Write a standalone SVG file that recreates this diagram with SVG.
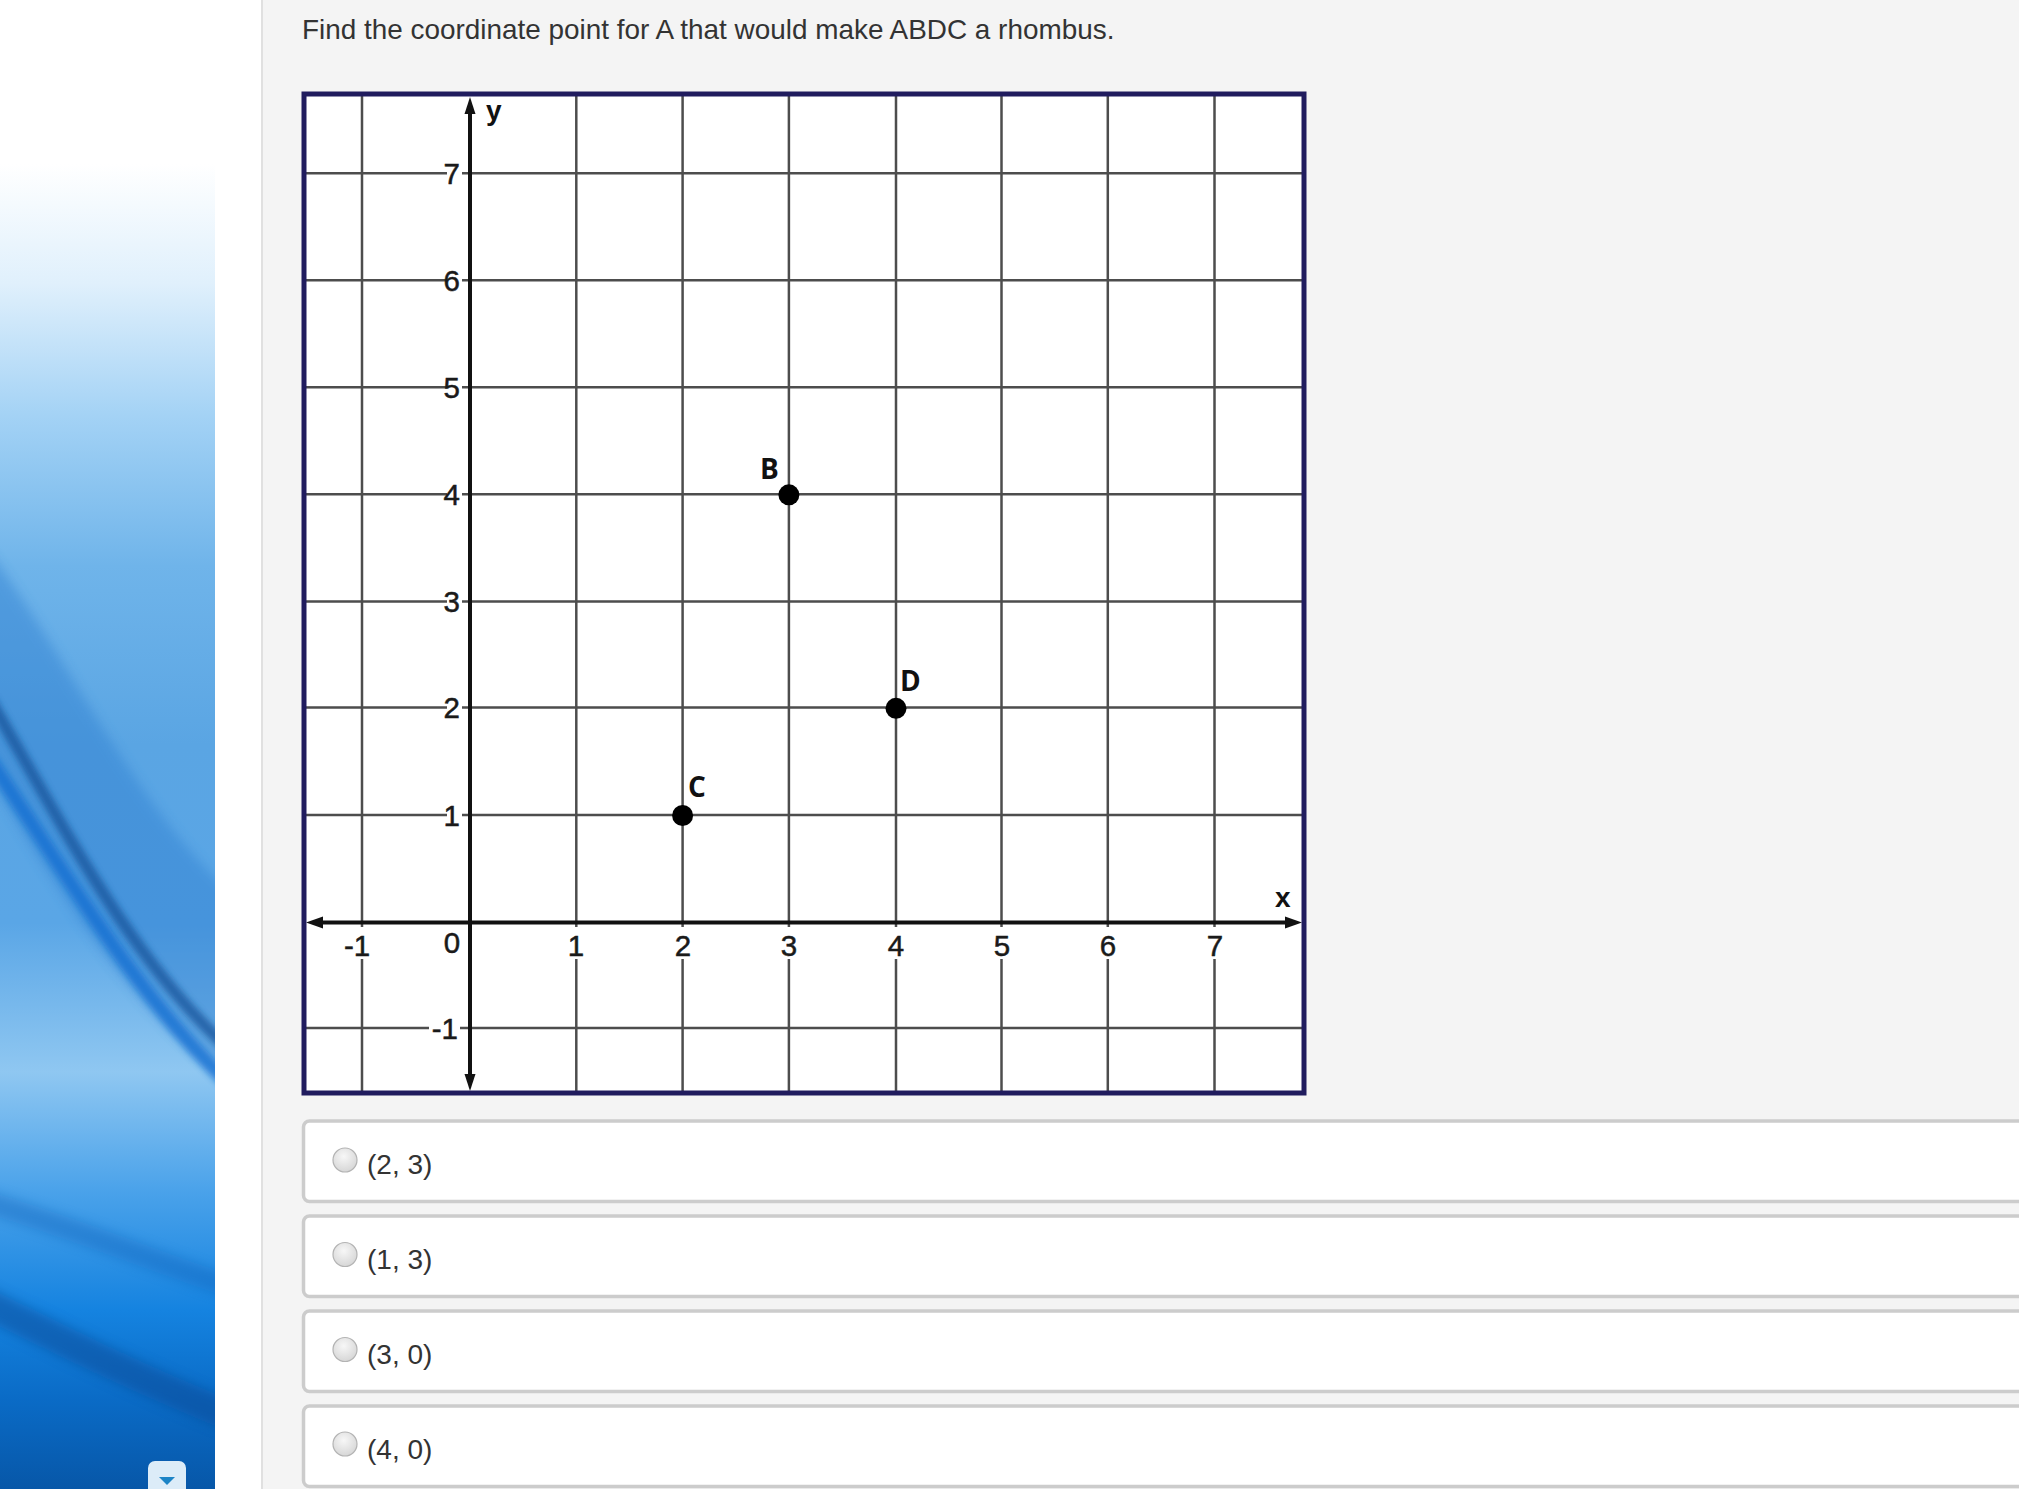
<svg xmlns="http://www.w3.org/2000/svg" width="2019" height="1489" viewBox="0 0 2019 1489">
  <style>
    .q { font-family: "Liberation Sans", Arial, sans-serif; font-size: 27.9px; fill: #333333; }
    .grid { stroke: #4d4d4d; stroke-width: 2.5; fill: none; }
    .axis { stroke: #111111; stroke-width: 4; fill: none; }
    .arrow { fill: #111111; }
    .tick { font-family: "Liberation Sans", Arial, sans-serif; font-size: 29.5px; fill: #1a1a1a; stroke: #1a1a1a; stroke-width: 0.5; }
    .tickbg { fill: #ffffff; }
    .axlab { font-family: "Liberation Sans", Arial, sans-serif; font-size: 28px; font-weight: bold; fill: #111111; }
    .ptlab { font-family: "Open Sans", "Noto Sans", sans-serif; font-size: 28px; font-weight: bold; fill: #111111; }
    .dot { fill: #000000; }
    .opt { fill: #ffffff; stroke: #cccccc; stroke-width: 3.5; }
    .radio { fill: url(#radioGrad); stroke: #b3b3b3; stroke-width: 1.2; }
    .otext { font-family: "Liberation Sans", Arial, sans-serif; font-size: 28px; fill: #333333; }
  </style>
  <defs>
    <linearGradient id="panelGrad" x1="0" y1="0" x2="0" y2="1">
      <stop offset="0" stop-color="#ffffff"/>
      <stop offset="0.11" stop-color="#ffffff"/>
      <stop offset="0.19" stop-color="#e0f0fc"/>
      <stop offset="0.28" stop-color="#a3d2f5"/>
      <stop offset="0.38" stop-color="#6fb4ea"/>
      <stop offset="0.5" stop-color="#5aa5e3"/>
      <stop offset="0.62" stop-color="#5aa6e6"/>
      <stop offset="0.72" stop-color="#8fc7f1"/>
      <stop offset="0.8" stop-color="#4aa2ea"/>
      <stop offset="0.88" stop-color="#1583e0"/>
      <stop offset="0.94" stop-color="#0a6bc6"/>
      <stop offset="1" stop-color="#0757a8"/>
    </linearGradient>
    <radialGradient id="radioGrad" cx="0.45" cy="0.35" r="0.7">
      <stop offset="0" stop-color="#f7f7f7"/>
      <stop offset="1" stop-color="#d4d4d4"/>
    </radialGradient>
    <filter id="soft" x="-20%" y="-20%" width="140%" height="140%">
      <feGaussianBlur stdDeviation="6"/>
    </filter>
    <filter id="soft2" x="-20%" y="-20%" width="140%" height="140%">
      <feGaussianBlur stdDeviation="3"/>
    </filter>
    <clipPath id="panelClip"><rect x="0" y="0" width="215" height="1489"/></clipPath>
  </defs>

  <!-- page background -->
  <rect x="0" y="0" width="2019" height="1489" fill="#f4f4f4"/>
  <rect x="0" y="0" width="262" height="1489" fill="#ffffff"/>
  <line x1="262" y1="0" x2="262" y2="1489" stroke="#e0e0e0" stroke-width="2"/>

  <!-- left decorative panel -->
  <g id="side-panel" clip-path="url(#panelClip)">
    <rect x="0" y="0" width="215" height="1489" fill="url(#panelGrad)"/>
    <path d="M-20,540 C60,640 140,820 240,900 L240,1090 C140,1020 60,900 -20,760 Z" fill="#2f7fd0" opacity="0.45" filter="url(#soft)"/>
    <path d="M-10,700 C60,820 130,960 230,1050" stroke="#14539a" stroke-width="12" fill="none" opacity="0.75" filter="url(#soft2)"/>
    <path d="M-10,760 C70,880 140,1000 230,1085" stroke="#0f6ad0" stroke-width="14" fill="none" opacity="0.7" filter="url(#soft2)"/>
    <path d="M-20,1300 C60,1340 140,1380 240,1420" stroke="#0a4a94" stroke-width="30" fill="none" opacity="0.5" filter="url(#soft)"/>
    <path d="M-20,1200 C80,1230 150,1260 240,1290" stroke="#0b5cb4" stroke-width="22" fill="none" opacity="0.35" filter="url(#soft)"/>
    <g id="dropdown-btn">
      <rect x="148" y="1461" width="38" height="44" rx="7" fill="#dcecf8"/>
      <polygon points="159,1477 175,1477 167,1485" fill="#1c84c6"/>
    </g>
  </g>

  <!-- question -->
  <text id="question" class="q" x="302" y="39">Find the coordinate point for A that would make ABDC a rhombus.</text>

  <!-- graph -->
  <g id="graph">
    <rect x="304" y="94" width="1000" height="999" fill="#ffffff"/>
    <g id="grid">
      <line class="grid" x1="362" y1="96" x2="362" y2="1092"/>
      <line class="grid" x1="576.3" y1="96" x2="576.3" y2="1092"/>
      <line class="grid" x1="682.6" y1="96" x2="682.6" y2="1092"/>
      <line class="grid" x1="788.9" y1="96" x2="788.9" y2="1092"/>
      <line class="grid" x1="896" y1="96" x2="896" y2="1092"/>
      <line class="grid" x1="1001.5" y1="96" x2="1001.5" y2="1092"/>
      <line class="grid" x1="1107.8" y1="96" x2="1107.8" y2="1092"/>
      <line class="grid" x1="1214.5" y1="96" x2="1214.5" y2="1092"/>
      <line class="grid" x1="306" y1="173.2" x2="1302" y2="173.2"/>
      <line class="grid" x1="306" y1="280.2" x2="1302" y2="280.2"/>
      <line class="grid" x1="306" y1="387.3" x2="1302" y2="387.3"/>
      <line class="grid" x1="306" y1="494.3" x2="1302" y2="494.3"/>
      <line class="grid" x1="306" y1="601.4" x2="1302" y2="601.4"/>
      <line class="grid" x1="306" y1="707.5" x2="1302" y2="707.5"/>
      <line class="grid" x1="306" y1="815" x2="1302" y2="815"/>
      <line class="grid" x1="306" y1="1028" x2="1302" y2="1028"/>
    </g>

    <g id="tick-labels">
      <!-- x labels -->
      <rect class="tickbg" x="342" y="927" width="30" height="32"/>
      <rect class="tickbg" x="566" y="927" width="20" height="32"/>
      <rect class="tickbg" x="673" y="927" width="20" height="32"/>
      <rect class="tickbg" x="779" y="927" width="20" height="32"/>
      <rect class="tickbg" x="886" y="927" width="20" height="32"/>
      <rect class="tickbg" x="992" y="927" width="20" height="32"/>
      <rect class="tickbg" x="1098" y="927" width="20" height="32"/>
      <rect class="tickbg" x="1205" y="927" width="20" height="32"/>
      <text class="tick" x="357" y="956" text-anchor="middle">-1</text>
      <text class="tick" x="452" y="953" text-anchor="middle">0</text>
      <text class="tick" x="576" y="956" text-anchor="middle">1</text>
      <text class="tick" x="683" y="956" text-anchor="middle">2</text>
      <text class="tick" x="789" y="956" text-anchor="middle">3</text>
      <text class="tick" x="896" y="956" text-anchor="middle">4</text>
      <text class="tick" x="1002" y="956" text-anchor="middle">5</text>
      <text class="tick" x="1108" y="956" text-anchor="middle">6</text>
      <text class="tick" x="1215" y="956" text-anchor="middle">7</text>
      <!-- y labels -->
      <rect class="tickbg" x="447" y="161" width="15" height="24"/>
      <rect class="tickbg" x="447" y="268" width="15" height="24"/>
      <rect class="tickbg" x="447" y="375" width="15" height="24"/>
      <rect class="tickbg" x="447" y="482" width="15" height="24"/>
      <rect class="tickbg" x="447" y="589" width="15" height="24"/>
      <rect class="tickbg" x="447" y="695" width="15" height="24"/>
      <rect class="tickbg" x="447" y="803" width="15" height="24"/>
      <rect class="tickbg" x="429" y="1015" width="31" height="24"/>
      <text class="tick" x="460" y="183.5" text-anchor="end">7</text>
      <text class="tick" x="460" y="290.5" text-anchor="end">6</text>
      <text class="tick" x="460" y="397.5" text-anchor="end">5</text>
      <text class="tick" x="460" y="504.5" text-anchor="end">4</text>
      <text class="tick" x="460" y="611.5" text-anchor="end">3</text>
      <text class="tick" x="460" y="718" text-anchor="end">2</text>
      <text class="tick" x="460" y="825.5" text-anchor="end">1</text>
      <text class="tick" x="458" y="1038.5" text-anchor="end">-1</text>
    </g>

    <g id="axes">
      <line class="axis" x1="316" y1="922.5" x2="1292" y2="922.5"/>
      <line class="axis" x1="470" y1="107" x2="470" y2="1082"/>
      <polygon class="arrow" points="306,922.5 323,916.5 323,928.5"/>
      <polygon class="arrow" points="1302,922.5 1285,916.5 1285,928.5"/>
      <polygon class="arrow" points="470,97 464.5,114 475.5,114"/>
      <polygon class="arrow" points="470,1091 464.5,1074 475.5,1074"/>
      <text class="axlab" x="486" y="120">y</text>
      <text class="axlab" x="1275" y="907">x</text>
    </g>

    <g id="point-B">
      <circle class="dot" cx="788.9" cy="494.8" r="10.5"/>
      <text class="ptlab" x="760" y="479">B</text>
    </g>
    <g id="point-D">
      <circle class="dot" cx="896" cy="708.3" r="10.5"/>
      <text class="ptlab" x="900" y="690.5">D</text>
    </g>
    <g id="point-C">
      <circle class="dot" cx="682.6" cy="815.5" r="10.5"/>
      <text class="ptlab" x="688" y="797">C</text>
    </g>

    <rect id="frame" x="304" y="94" width="1000" height="999" fill="none" stroke="#201c5e" stroke-width="5"/>
  </g>

  <!-- answer options -->
  <g id="option-1">
    <rect class="opt" x="303.5" y="1121" width="1800" height="80.5" rx="6"/>
    <circle class="radio" cx="345" cy="1160" r="12"/>
    <text class="otext" x="367" y="1173.5">(2, 3)</text>
  </g>
  <g id="option-2">
    <rect class="opt" x="303.5" y="1216" width="1800" height="80.5" rx="6"/>
    <circle class="radio" cx="345" cy="1254.5" r="12"/>
    <text class="otext" x="367" y="1268.5">(1, 3)</text>
  </g>
  <g id="option-3">
    <rect class="opt" x="303.5" y="1311" width="1800" height="80.5" rx="6"/>
    <circle class="radio" cx="345" cy="1349.5" r="12"/>
    <text class="otext" x="367" y="1363.5">(3, 0)</text>
  </g>
  <g id="option-4">
    <rect class="opt" x="303.5" y="1406" width="1800" height="80.5" rx="6"/>
    <circle class="radio" cx="345" cy="1444" r="12"/>
    <text class="otext" x="367" y="1458.5">(4, 0)</text>
  </g>
</svg>
